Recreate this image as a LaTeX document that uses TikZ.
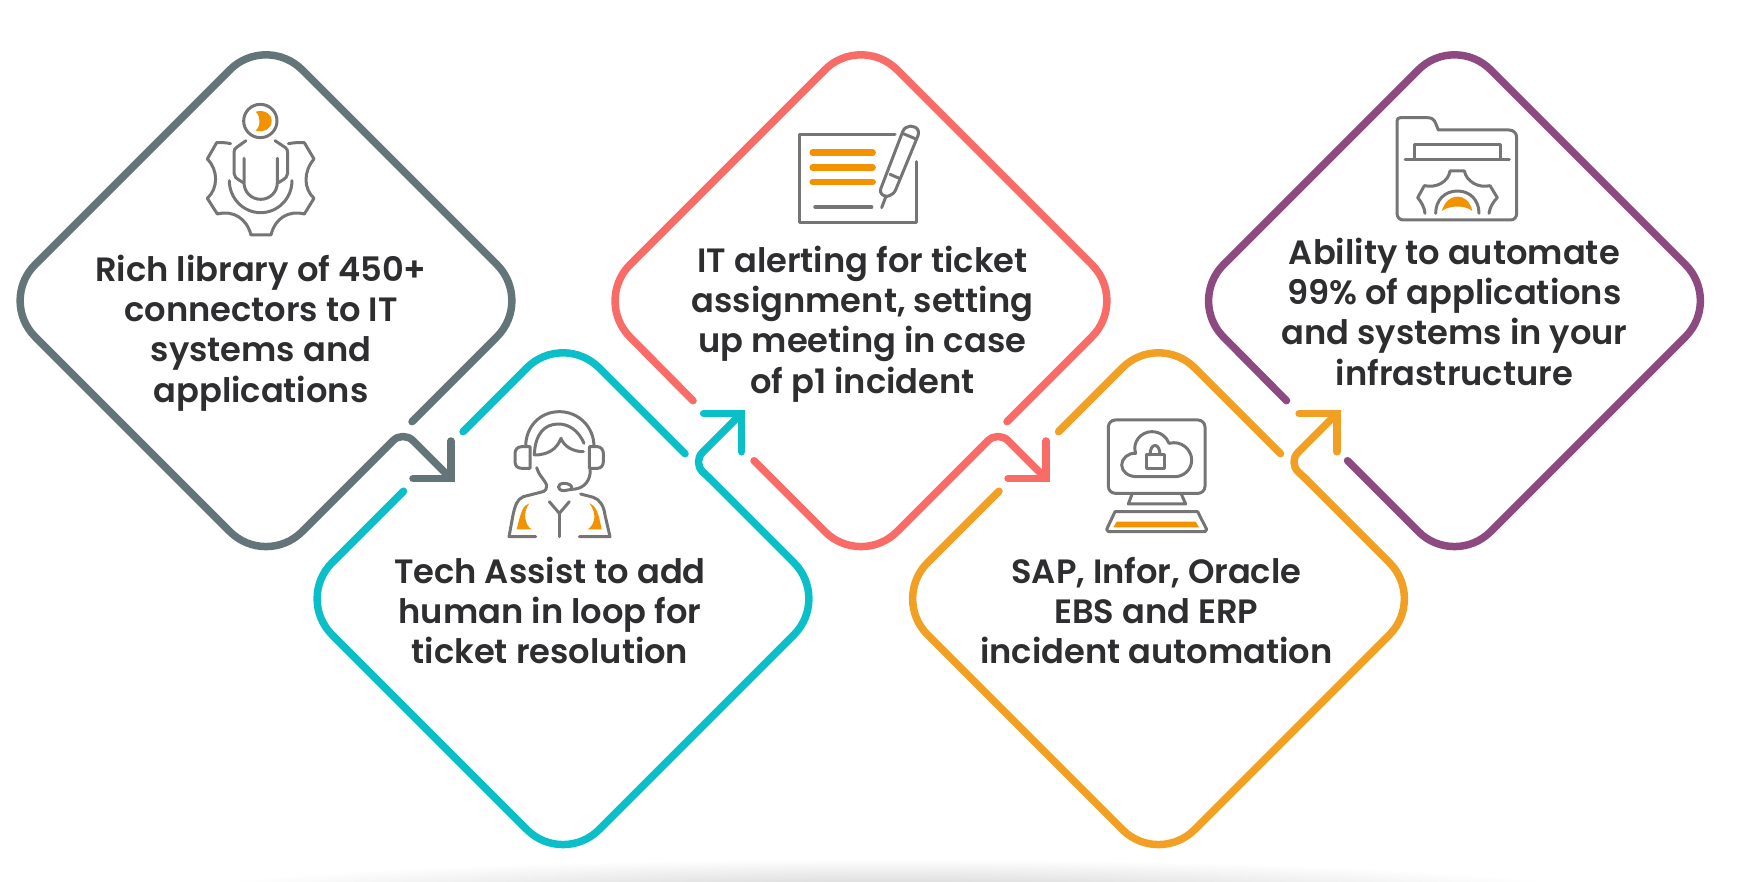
\documentclass[tikz,border=0pt]{standalone}
\usepackage{fontspec}
\setmainfont{Poppins}[UprightFont=* SemiBold]
\usepackage{tikz}

\definecolor{slategray}{HTML}{64757A}
\definecolor{tealring}{HTML}{0ABFC8}
\definecolor{coralring}{HTML}{F96B67}
\definecolor{amberring}{HTML}{F2A024}
\definecolor{plumring}{HTML}{8C4A80}
\definecolor{icongray}{HTML}{757575}
\definecolor{iconfill}{HTML}{F39200}
\definecolor{inktext}{HTML}{2E2E30}
\definecolor{floorgray}{HTML}{D0D0D0}

\tikzset{
	ring/.style={line width=7.5pt, line cap=round, line join=round, rounded corners=51pt},
	hook/.style={ring, rounded corners=14pt},
	barb/.style={line width=7.5pt, line cap=round, line join=miter},
	icon/.style={draw=icongray, line width=3pt, line cap=round, line join=round},
	accent/.style={fill=iconfill, draw=none},
	caption/.style={text=inktext, align=center, font=\fontsize{33.7}{40.2}\selectfont}
}

\begin{document}
\begin{tikzpicture}[x=1pt, y=-1pt]
\useasboundingbox (0,0) rectangle (1738,882);

% floor shadow
\shade[inner color=floorgray, outer color=white] (887,893) ellipse (700 and 34);

% first ring, one piece
\begin{scope}[shift={(266,300.7)}]
	\draw[ring, draw=slategray] (146,121) -- (267,0) -- (0,-267) -- (-267,0) -- (0,267) -- (120,147);
	\draw[hook, draw=slategray] (120,147) -- (137,130) -- (184.8,177.7);
	\draw[barb, draw=slategray] (184.8,140.3) -- (184.8,177.7) -- (147,177.7);
\end{scope}

% second ring
\begin{scope}[shift={(861,300.7)}]
	\draw[ring, draw=coralring] (146,121) -- (267,0) -- (0,-267) -- (-267,0) -- (-168,100);
	\draw[ring, draw=coralring] (-107,160) -- (0,267) -- (120,147);
	\draw[hook, draw=coralring] (120,147) -- (137,130) -- (184.8,177.7);
	\draw[barb, draw=coralring] (184.8,140.3) -- (184.8,177.7) -- (147,177.7);
\end{scope}

% last ring, one gap
\begin{scope}[shift={(1454.5,300.7)}]
	\draw[ring, draw=plumring] (-107,160) -- (0,267) -- (267,0) -- (0,-267) -- (-267,0) -- (-168,100);
\end{scope}

% lower rings, two pieces
\foreach \cx/\col in {563/tealring,1158.5/amberring}
{
	\begin{scope}[shift={(\cx,598.7)}]
		\draw[ring, draw=\col] (-100,-167) -- (0,-267) -- (122,-145);
		\draw[ring, draw=\col] (-159.5,-107.5) -- (-267,0) -- (0,267) -- (267,0) -- (147,-120);
		\draw[hook, draw=\col] (147,-120) -- (129.6,-136.4) -- (178.4,-185.2);
		\draw[barb, draw=\col] (140.6,-185.2) -- (178.4,-185.2) -- (178.4,-146.9);
	\end{scope}
}

% captions
\node[caption] (txtrich) at (261,333) {Rich library of 450+\\connectors to IT\\systems and\\applications};
\node[caption] (txtassist) at (550,610.7) {Tech Assist to add\\human in loop for\\ticket resolution};
\node[caption] (txtalert) at (862.5,324) {IT alerting for ticket\\assignment, setting\\up meeting in case\\of p1 incident};
\node[caption] (txterp) at (1156.4,610.7) {SAP, Infor, Oracle\\EBS and ERP\\incident automation};
\node[caption] (txtauto) at (1454.4,311.7) {Ability to automate\\99\% of applications\\and systems in your\\infrastructure};

% gear person icon
\begin{scope}[shift={(190,90)}, scale=1/3]
	\draw[icon] (211,93) circle (50);
	\fill[accent] (197,65) .. controls (225,58) and (245,72) .. (245,93) .. controls (245,115) and (225,128) .. (197,122) .. controls (212,110) and (212,78) .. cycle;
	\draw[icon] (168,152) -- (140,172) .. controls (134,176) and (132,180) .. (132,188) -- (132,250) .. controls (132,260) and (136,264) .. (160,278);
	\draw[icon] (255,152) -- (285,172) .. controls (291,176) and (293,180) .. (293,188) -- (293,250) .. controls (293,260) and (289,264) .. (265,278);
	\draw[icon] (162,205) -- (162,278) .. controls (162,306) and (184,328) .. (212,328) .. controls (240,328) and (262,306) .. (262,278) -- (262,205);
	\draw[icon] (118,272) .. controls (118,325) and (160,368) .. (212,368) .. controls (264,368) and (306,325) .. (306,272);
	\draw[icon] (122,161) .. controls (108,158) and (95,157) .. (80,158) -- (52,207) .. controls (85,240) and (85,295) .. (52,325) -- (82,372) .. controls (130,360) and (170,385) .. (183,435) -- (243,435) .. controls (255,385) and (295,360) .. (343,372) -- (372,325) .. controls (340,295) and (340,245) .. (372,207) -- (343,158) .. controls (328,157) and (310,158) .. (295,161);
\end{scope}

% headset agent icon
\begin{scope}[shift={(490,400)}, scale=1/3]
	\draw[icon] (107,140) .. controls (107,80) and (150,35) .. (208,35) .. controls (265,35) and (312,80) .. (312,140);
	\draw[icon] (120,140) -- (95,140) .. controls (82,140) and (75,150) .. (75,160) -- (75,185) .. controls (75,197) and (82,205) .. (95,205) -- (120,205) -- cycle;
	\draw[icon] (298,140) -- (322,140) .. controls (333,140) and (340,150) .. (340,160) -- (340,185) .. controls (340,197) and (333,205) .. (322,205) -- (298,205) -- cycle;
	\draw[icon] (282,130) .. controls (265,90) and (235,72) .. (205,72) .. controls (165,72) and (135,100) .. (133,165) .. controls (170,165) and (200,150) .. (213,115) .. controls (222,140) and (250,155) .. (280,155);
	\draw[icon] (300,205) -- (300,222) .. controls (296,250) and (275,268) .. (245,268) -- (222,272) .. controls (200,272) and (200,250) .. (222,250) .. controls (235,250) and (245,256) .. (245,262);
	\draw[icon] (140,203) .. controls (145,225) and (165,240) .. (170,255) -- (168,268) .. controls (165,274) and (160,275) .. (155,276) -- (100,290) .. controls (80,298) and (75,320) .. (70,340) -- (57,410) -- (137,410);
	\draw[icon] (272,282) -- (310,292) .. controls (330,298) and (342,320) .. (345,345) -- (360,410) -- (268,410);
	\draw[icon] (178,305) -- (208,340) -- (238,305);
	\draw[icon] (208,340) -- (208,410);
	\fill[accent] (118,310) .. controls (98,315) and (92,340) .. (80,388) -- (125,388) .. controls (103,375) and (98,335) .. cycle;
	\fill[accent] (298,310) .. controls (320,318) and (325,340) .. (335,388) -- (293,388) .. controls (315,375) and (322,340) .. cycle;
\end{scope}

% signed note icon
\begin{scope}[shift={(790,115)}, scale=1/3]
	\draw[icon] (315,60) -- (28,60) -- (28,322) -- (380,322) -- (380,140);
	\foreach \rowy in {113,157,201}
	{
		\draw[line width=6.4pt, line cap=round, draw=iconfill] (68,\rowy) -- (248,\rowy);
	}
	\draw[icon, line width=3.4pt] (75,276) -- (245,276);
	\draw[icon] (272,222) -- (338,50) .. controls (346,28) and (378,28) .. (385,48) .. controls (386,54) and (385,58) .. (384,62) -- (318,222) .. controls (314,234) and (305,240) .. (292,244) .. controls (280,244) and (268,236) .. (272,222);
	\draw[icon] (340,56) -- (378,72);
	\draw[icon] (300,178) -- (328,190);
	\draw[icon] (288,244) -- (275,278);
\end{scope}

% secure cloud monitor icon
\begin{scope}[shift={(1095,410)}, scale=1/3]
	\draw[icon, rounded corners=7pt] (40,30) rectangle (330,250);
	\draw[icon] (240,200) -- (125,200) .. controls (100,200) and (80,185) .. (80,165) .. controls (80,145) and (100,128) .. (122,130) .. controls (110,95) and (140,65) .. (170,65) .. controls (195,65) and (215,80) .. (222,100) .. controls (260,90) and (290,120) .. (290,150) .. controls (290,180) and (265,200) .. (240,200);
	\draw[icon] (153,135) rectangle (207,175);
	\draw[icon] (165,135) .. controls (165,97) and (195,97) .. (195,135);
	\draw[icon] (112,250) -- (100,282) -- (272,282) -- (258,250);
	\draw[icon] (60,305) -- (308,305) -- (335,358) -- (330,365) -- (40,365) -- (35,358) -- cycle;
	\fill[accent] (65,335) -- (302,335) -- (312,352) -- (55,352) -- cycle;
\end{scope}

% gear folder icon
\begin{scope}[shift={(1385,105)}, scale=1/3]
	\draw[icon] (36,48) .. controls (36,42) and (40,38) .. (46,38) -- (128,38) .. controls (140,38) and (148,44) .. (152,55) -- (160,75) -- (372,75) .. controls (386,75) and (395,85) .. (395,98) -- (395,325) .. controls (395,337) and (388,345) .. (376,345) -- (55,345) .. controls (44,345) and (36,337) .. (36,325) -- cycle;
	\draw[icon] (88,160) -- (88,120) -- (345,120) -- (345,160);
	\draw[icon] (60,163) -- (373,163);
	\draw[icon] (120,325) .. controls (118,305) and (108,290) .. (98,278) -- (118,242) .. controls (155,250) and (190,230) .. (195,198) -- (238,198) .. controls (245,230) and (280,250) .. (315,242) -- (337,278) .. controls (325,290) and (315,305) .. (312,325);
	\draw[icon] (152,325) .. controls (152,285) and (180,258) .. (217,258) .. controls (255,258) and (282,285) .. (282,325);
	\fill[accent] (170,318) .. controls (180,290) and (195,275) .. (217,275) .. controls (240,275) and (255,290) .. (262,318) .. controls (240,300) and (195,300) .. cycle;
\end{scope}
\end{tikzpicture}
\end{document}
